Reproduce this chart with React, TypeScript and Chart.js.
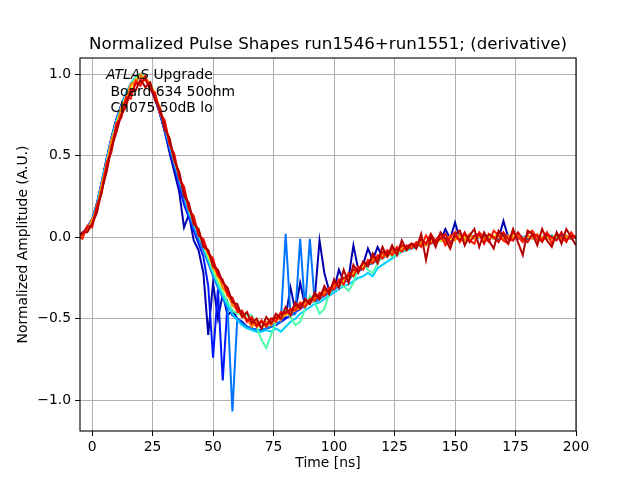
import React, { useEffect, useRef } from "react";
import { Chart, registerables } from "chart.js";

Chart.register(...registerables);

const TIME = [
  -6, -4, -2, 0, 2, 4, 6, 8, 10, 12,
  14, 16, 18, 20, 22, 24, 26, 28, 30, 32,
  34, 36, 38, 40, 42, 44, 46, 48, 50, 52,
  54, 56, 58, 60, 62, 64, 66, 68, 70, 72,
  74, 76, 78, 80, 82, 84, 86, 88, 90, 92,
  94, 96, 98, 100, 102, 104, 106, 108, 110, 112,
  114, 116, 118, 120, 122, 124, 126, 128, 130, 132,
  134, 136, 138, 140, 142, 144, 146, 148, 150, 152,
  154, 156, 158, 160, 162, 164, 166, 168, 170, 172,
  174, 176, 178, 180, 182, 184, 186, 188, 190, 192,
  194, 196, 198, 200,
];

const NAVY = [
  -0.01, 0.02, 0.06, 0.11, 0.21, 0.34, 0.48, 0.61, 0.72, 0.81,
  0.88, 0.94, 0.98, 1.0, 0.97, 0.92, 0.85, 0.76, 0.65, 0.52,
  0.4, 0.28, 0.06, 0.14, -0.02, -0.08, -0.22, -0.6, -0.28, -0.5,
  -0.35, -0.48, -0.45, -0.5, -0.52, -0.55, -0.56, -0.57, -0.57, -0.56,
  -0.55, -0.53, -0.52, -0.49, -0.31, -0.45, -0.28, -0.42, -0.4, -0.38,
  -0.02, -0.22, -0.33, -0.32, -0.2, -0.27, -0.25, -0.05, -0.2, -0.17,
  -0.07, -0.14, -0.06, -0.12, -0.1, -0.09, -0.09, -0.08, -0.07, -0.06,
  -0.05, -0.05, -0.04, -0.03, -0.02, -0.02, 0.05, -0.01, 0.09, -0.01,
  0.0, -0.01, 0.0, 0.0, -0.01, 0.0, 0.0, -0.01, 0.1, 0.0,
  -0.01, 0.0, 0.0, -0.01, 0.0, 0.01, 0.0, -0.01, 0.0, 0.0,
  0.01, 0.0, -0.01, 0.0,
];

const BLUE = [
  -0.01, 0.02, 0.06, 0.11, 0.2, 0.34, 0.48, 0.61, 0.72, 0.81,
  0.88, 0.94, 0.98, 1.0, 0.97, 0.92, 0.85, 0.76, 0.65, 0.54,
  0.43, 0.32, 0.2, 0.12, 0.04, -0.04, -0.12, -0.3, -0.74, -0.32,
  -0.88, -0.4, -0.48, -0.5, -0.53, -0.55, -0.56, -0.57, -0.57, -0.56,
  -0.55, -0.54, -0.52, -0.5, -0.48, -0.46, -0.44, -0.42, -0.4, -0.39,
  -0.37, -0.36, -0.34, -0.32, -0.3, -0.28, -0.26, -0.23, -0.21, -0.19,
  -0.17, -0.15, -0.14, -0.12, -0.11, -0.1, -0.09, -0.08, -0.07, -0.06,
  -0.05, -0.05, -0.04, -0.03, -0.03, -0.02, -0.02, -0.01, -0.01, 0.0,
  0.0, -0.01, 0.0, 0.0, 0.01, 0.0, -0.01, 0.0, 0.0, 0.01,
  0.0, -0.01, 0.0, 0.0, 0.01, 0.0, 0.0, -0.01, 0.0, 0.0,
  0.01, 0.0, -0.01, 0.0,
];

const LIGHTBLUE = [
  -0.01, 0.02, 0.06, 0.11, 0.2, 0.33, 0.47, 0.6, 0.71, 0.8,
  0.88, 0.94, 0.98, 1.0, 0.97, 0.93, 0.86, 0.77, 0.66, 0.56,
  0.45, 0.34, 0.24, 0.14, 0.06, -0.01, -0.08, -0.16, -0.24, -0.31,
  -0.37, -0.44, -1.07, -0.5, -0.53, -0.55, -0.56, -0.57, -0.57, -0.56,
  -0.55, -0.53, -0.52, 0.02, -0.48, -0.47, -0.01, -0.44, -0.01, -0.4,
  -0.38, -0.36, -0.34, -0.32, -0.3, -0.28, -0.26, -0.23, -0.21, -0.19,
  -0.17, -0.16, -0.14, -0.13, -0.11, -0.1, -0.09, -0.08, -0.07, -0.06,
  -0.05, -0.04, -0.04, -0.03, -0.02, -0.02, -0.01, -0.01, 0.0, 0.0,
  -0.01, 0.0, 0.01, 0.0, 0.0, -0.01, 0.0, 0.01, 0.0, 0.0,
  -0.01, 0.0, 0.0, 0.01, 0.0, 0.0, -0.01, 0.0, 0.01, 0.0,
  0.0, -0.01, 0.0, 0.0,
];

const CYAN = [
  -0.02, 0.01, 0.05, 0.1, 0.2, 0.33, 0.47, 0.6, 0.71, 0.8,
  0.88, 0.94, 0.98, 1.0, 0.98, 0.93, 0.86, 0.77, 0.67, 0.57,
  0.46, 0.36, 0.26, 0.16, 0.08, 0.01, -0.06, -0.14, -0.22, -0.29,
  -0.36, -0.42, -0.47, -0.51, -0.54, -0.56, -0.57, -0.58, -0.58, -0.57,
  -0.58, -0.56, -0.58, -0.55, -0.52, -0.5, -0.47, -0.45, -0.43, -0.41,
  -0.4, -0.38, -0.36, -0.34, -0.32, -0.3, -0.29, -0.27, -0.25, -0.24,
  -0.22, -0.24, -0.19, -0.17, -0.15, -0.13, -0.11, -0.09, -0.08, -0.07,
  -0.06, -0.05, -0.04, -0.04, -0.03, -0.02, -0.02, -0.01, -0.01, 0.0,
  0.0, 0.0, -0.01, 0.0, 0.0, 0.01, 0.0, 0.0, -0.01, 0.0,
  0.0, 0.01, 0.0, 0.0, -0.01, 0.0, 0.0, 0.0, 0.01, 0.0,
  0.0, -0.01, 0.0, 0.0,
];

const GREEN = [
  -0.02, 0.01, 0.05, 0.1, 0.19, 0.32, 0.46, 0.59, 0.7, 0.79,
  0.87, 0.93, 0.98, 1.0, 0.98, 0.94, 0.87, 0.78, 0.68, 0.58,
  0.47, 0.37, 0.27, 0.17, 0.09, 0.02, -0.05, -0.13, -0.21, -0.28,
  -0.34, -0.4, -0.45, -0.47, -0.47, -0.48, -0.48, -0.55, -0.63, -0.68,
  -0.6, -0.52, -0.47, -0.45, -0.49, -0.54, -0.52, -0.44, -0.36, -0.4,
  -0.47, -0.44, -0.35, -0.29, -0.28, -0.3, -0.33, -0.28, -0.19, -0.17,
  -0.2, -0.22, -0.16, -0.11, -0.1, -0.12, -0.11, -0.08, -0.07, -0.06,
  -0.05, -0.05, -0.04, -0.03, -0.03, -0.02, -0.02, -0.01, -0.01, 0.0,
  0.0, -0.01, 0.0, 0.01, 0.0, 0.0, -0.01, 0.0, 0.0, 0.01,
  0.0, 0.0, -0.01, 0.0, 0.0, 0.01, 0.0, 0.0, -0.01, 0.0,
  0.0, 0.01, 0.0, 0.0,
];

const YELLOW = [
  -0.01, 0.01, 0.05, 0.09, 0.18, 0.31, 0.45, 0.58, 0.69, 0.78,
  0.86, 0.92, 0.97, 0.99, 0.98, 0.94, 0.88, 0.79, 0.69, 0.59,
  0.48, 0.38, 0.28, 0.18, 0.1, 0.03, -0.04, -0.11, -0.18, -0.25,
  -0.31, -0.36, -0.41, -0.45, -0.48, -0.51, -0.53, -0.54, -0.55, -0.54,
  -0.53, -0.51, -0.49, -0.48, -0.46, -0.45, -0.43, -0.41, -0.4, -0.38,
  -0.36, -0.35, -0.33, -0.31, -0.29, -0.27, -0.25, -0.22, -0.2, -0.18,
  -0.16, -0.15, -0.13, -0.12, -0.11, -0.1, -0.09, -0.08, -0.07, -0.06,
  -0.05, -0.05, -0.04, -0.03, -0.03, -0.02, -0.02, -0.01, -0.01, 0.0,
  0.0, -0.01, 0.01, 0.0, -0.01, 0.0, 0.01, 0.0, -0.01, 0.0,
  0.01, 0.0, -0.01, 0.0, 0.01, 0.0, 0.0, -0.01, 0.0, 0.01,
  0.0, -0.01, 0.0, 0.0,
];

const ORANGE = [
  0.0, 0.02, 0.04, 0.11, 0.16, 0.33, 0.43, 0.6, 0.66, 0.8,
  0.84, 0.94, 0.95, 1.0, 0.96, 0.95, 0.86, 0.8, 0.67, 0.6,
  0.46, 0.4, 0.26, 0.2, 0.08, 0.05, -0.06, -0.08, -0.19, -0.22,
  -0.31, -0.34, -0.42, -0.44, -0.49, -0.5, -0.55, -0.52, -0.56, -0.52,
  -0.54, -0.49, -0.51, -0.46, -0.48, -0.43, -0.44, -0.4, -0.41, -0.36,
  -0.38, -0.33, -0.34, -0.29, -0.3, -0.25, -0.26, -0.2, -0.21, -0.16,
  -0.17, -0.13, -0.15, -0.1, -0.12, -0.08, -0.1, -0.06, -0.08, -0.04,
  -0.06, -0.03, -0.05, -0.01, -0.04, 0.0, -0.03, 0.01, -0.02, 0.02,
  -0.02, 0.02, -0.01, 0.01, -0.02, 0.02, -0.01, 0.02, -0.02, 0.01,
  -0.01, 0.02, -0.02, 0.01, -0.01, 0.02, -0.02, 0.01, -0.01, 0.02,
  -0.02, 0.01, -0.01, 0.01,
];

const RED = [
  0.01, -0.01, 0.07, 0.06, 0.2, 0.27, 0.46, 0.52, 0.7, 0.73,
  0.86, 0.85, 0.96, 0.93, 0.99, 0.9, 0.89, 0.76, 0.72, 0.57,
  0.51, 0.36, 0.31, 0.17, 0.13, 0.01, -0.01, -0.1, -0.13, -0.24,
  -0.26, -0.36, -0.37, -0.46, -0.45, -0.52, -0.49, -0.55, -0.51, -0.55,
  -0.5, -0.52, -0.46, -0.47, -0.44, -0.45, -0.4, -0.43, -0.38, -0.39,
  -0.34, -0.36, -0.31, -0.32, -0.26, -0.29, -0.22, -0.24, -0.18, -0.2,
  -0.14, -0.16, -0.11, -0.13, -0.08, -0.11, -0.06, -0.09, -0.05, -0.07,
  -0.03, -0.06, 0.01, -0.04, -0.02, 0.02, -0.05, 0.0, 0.03, -0.03,
  0.02, -0.02, -0.04, 0.03, 0.0, -0.03, 0.04, 0.01, -0.02, -0.04,
  0.03, 0.0, -0.03, 0.02, 0.04, -0.02, -0.01, 0.03, -0.04, 0.02,
  0.0, -0.03, 0.03, -0.01,
];

const DEEPRED = [
  -0.01, 0.02, 0.06, 0.07, 0.18, 0.28, 0.43, 0.54, 0.68, 0.74,
  0.84, 0.88, 0.94, 0.95, 0.97, 0.91, 0.87, 0.77, 0.7, 0.58,
  0.49, 0.37, 0.29, 0.18, 0.11, 0.02, -0.03, -0.09, -0.15, -0.22,
  -0.27, -0.34, -0.38, -0.44, -0.46, -0.51, -0.5, -0.54, -0.52, -0.54,
  -0.5, -0.5, -0.47, -0.46, -0.45, -0.42, -0.42, -0.39, -0.39, -0.36,
  -0.36, -0.32, -0.33, -0.28, -0.28, -0.25, -0.24, -0.2, -0.2, -0.16,
  -0.16, -0.12, -0.13, -0.09, -0.1, -0.07, -0.08, -0.05, -0.06, -0.04,
  -0.05, -0.01, -0.04, 0.02, -0.03, -0.01, 0.02, -0.04, 0.01, -0.02,
  0.03, -0.03, 0.01, 0.02, -0.04, 0.02, 0.0, -0.03, 0.03, -0.01,
  -0.02, 0.03, -0.01, -0.03, 0.02, 0.01, -0.03, 0.02, 0.0, -0.02,
  0.03, -0.02, 0.01, 0.0,
];

const DARKRED = [
  0.0, 0.03, 0.03, 0.08, 0.15, 0.29, 0.4, 0.55, 0.64, 0.75,
  0.8, 0.91, 0.9, 0.97, 0.92, 0.95, 0.84, 0.79, 0.66, 0.61,
  0.47, 0.4, 0.25, 0.21, 0.08, 0.05, -0.06, -0.08, -0.18, -0.2,
  -0.28, -0.31, -0.4, -0.41, -0.49, -0.46, -0.53, -0.5, -0.56, -0.49,
  -0.53, -0.47, -0.5, -0.43, -0.48, -0.4, -0.44, -0.38, -0.41, -0.34,
  -0.38, -0.3, -0.35, -0.26, -0.31, -0.2, -0.28, -0.17, -0.22, -0.15,
  -0.18, -0.1, -0.16, -0.06, -0.12, -0.05, -0.11, -0.02, -0.08, -0.04,
  -0.07, 0.02, -0.14, 0.01, -0.06, 0.03, -0.01, -0.07, 0.02, 0.04,
  -0.05, 0.01, 0.05, -0.06, 0.03, -0.02, -0.07, 0.04, 0.01, -0.04,
  0.05, -0.03, -0.11, 0.04, 0.02, -0.05, 0.05, -0.02, -0.06, 0.03,
  -0.04, 0.05, 0.0, -0.05,
];

const SERIES = [NAVY, BLUE, LIGHTBLUE, CYAN, GREEN, YELLOW, ORANGE, RED, DEEPRED, DARKRED];
const COLORS = [
  "#0000b0", "#0018ff", "#0074ff", "#00d0ff", "#4dffa9",
  "#ffe000", "#ff7d00", "#ff1a00", "#d80000", "#b40000",
];

const X_TICKS = [0, 25, 50, 75, 100, 125, 150, 175, 200];
const Y_TICKS = [-1.0, -0.5, 0.0, 0.5, 1.0];

const TITLE = "Normalized Pulse Shapes run1546+run1551; (derivative)";
const X_LABEL = "Time [ns]";
const Y_LABEL = "Normalized Amplitude (A.U.)";
const NOTE_ITALIC = "ATLAS";
const NOTE_LINES = [" Upgrade", " Board 634 50ohm", " Ch075 50dB lo"];

const FONT = "DejaVu Sans";

export default function App() {
  const ref = useRef<HTMLCanvasElement | null>(null);

  useEffect(() => {
    document.body.style.margin = "0";
    const canvas = ref.current;
    if (!canvas) return;
    const n = SERIES.length;
    const datasets = SERIES.map((vals, i) => ({
      data: vals.map((y, k) => ({ x: TIME[k], y })),
      borderColor: COLORS[i],
      backgroundColor: COLORS[i],
      borderWidth: 2,
      pointRadius: 0,
      fill: false,
      tension: 0,
      order: n - 1 - i,
      clip: 0,
    }));

    const textPlugin = {
      id: "texts",
      afterDraw(chart: any) {
        const c = chart.ctx as CanvasRenderingContext2D;
        const a = chart.chartArea;
        c.save();
        c.strokeStyle = "#000";
        c.lineWidth = 1.1;
        c.strokeRect(a.left, a.top, a.right - a.left, a.bottom - a.top);
        c.fillStyle = "#000";
        c.textAlign = "center";
        c.textBaseline = "alphabetic";
        c.font = `16.7px "${FONT}"`;
        c.fillText(TITLE, (a.left + a.right) / 2, 49);
        c.font = `13.9px "${FONT}"`;
        c.textBaseline = "middle";
        c.fillText(X_LABEL, (a.left + a.right) / 2, 463);
        c.save();
        c.translate(23, (a.top + a.bottom) / 2);
        c.rotate(-Math.PI / 2);
        c.fillText(Y_LABEL, 0, 0);
        c.restore();
        c.textAlign = "left";
        const x0 = 106;
        c.font = `italic 13.9px "${FONT}"`;
        c.fillText(NOTE_ITALIC, x0, 75);
        const w = c.measureText(NOTE_ITALIC).width;
        c.font = `13.9px "${FONT}"`;
        c.fillText(NOTE_LINES[0], x0 + w, 75);
        c.fillText(NOTE_LINES[1], x0, 92);
        c.fillText(NOTE_LINES[2], x0, 108);
        c.restore();
      },
    };

    const chart = new Chart(canvas, {
      type: "line",
      data: { datasets },
      plugins: [textPlugin],
      options: {
        animation: false,
        responsive: false,
        devicePixelRatio: 1,
        layout: { padding: { left: 0, right: 64, top: 58, bottom: 0 } },
        plugins: {
          legend: { display: false },
          tooltip: { enabled: false },
          title: { display: false },
        },
        scales: {
          x: {
            type: "linear",
            min: -5,
            max: 200,
            afterBuildTicks: (axis: any) => {
              axis.ticks = X_TICKS.map((v) => ({ value: v }));
            },
            afterFit: (axis: any) => {
              axis.height = 49;
            },
            grid: {
              color: "#b0b0b0",
              lineWidth: 1,
              tickColor: "#000",
              tickLength: 5,
              drawTicks: true,
            },
            border: { display: false },
            ticks: {
              color: "#000",
              font: { family: FONT, size: 13.9 },
              padding: 3,
              maxRotation: 0,
              autoSkip: false,
              callback: (v: any) => String(v),
            },
          },
          y: {
            type: "linear",
            min: -1.19,
            max: 1.1,
            afterBuildTicks: (axis: any) => {
              axis.ticks = Y_TICKS.map((v) => ({ value: v }));
            },
            afterFit: (axis: any) => {
              axis.width = 80;
            },
            grid: {
              color: "#b0b0b0",
              lineWidth: 1,
              tickColor: "#000",
              tickLength: 5,
              drawTicks: true,
            },
            border: { display: false },
            ticks: {
              color: "#000",
              font: { family: FONT, size: 13.9 },
              padding: 4,
              autoSkip: false,
              callback: (v: any) =>
                (v < 0 ? "\u2212" : "") + Math.abs(Number(v)).toFixed(1),
            },
          },
        },
      },
    } as any);

    return () => chart.destroy();
  }, []);

  return (
    <div style={{ position: "absolute", left: 0, top: 0, width: 640, height: 480, background: "#fff" }}>
      <canvas ref={ref} width={640} height={480} style={{ display: "block" }} />
    </div>
  );
}
